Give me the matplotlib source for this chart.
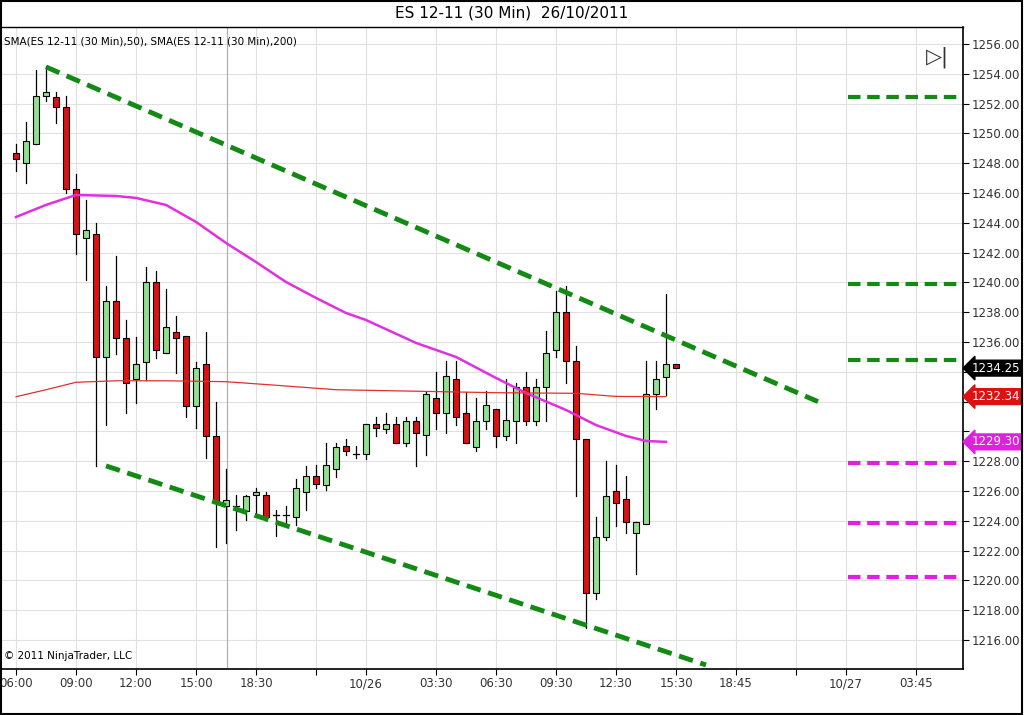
import matplotlib
matplotlib.use("Agg")
import matplotlib.pyplot as plt
from matplotlib.patches import Rectangle
import numpy as np

opens = [1248.71,1248.00,1249.27,1252.51,1252.46,1251.75,1246.25,1242.96,1243.23,1234.98,
         1238.76,1236.25,1233.50,1234.68,1240.01,1235.25,1236.70,1236.43,1231.71,1234.53,
         1229.72,1224.99,1225.00,1224.69,1225.74,1225.74,1224.40,1224.40,1224.24,1225.96,
         1227.01,1226.41,1227.48,1229.03,1228.49,1228.47,1230.49,1230.19,1230.49,1229.21,
         1230.73,1229.74,1232.23,1231.22,1233.50,1231.22,1228.98,1230.73,1231.49,1229.72,
         1230.73,1232.96,1230.73,1232.96,1235.47,1238.00,1234.73,1229.47,1219.18,1222.95,
         1226.00,1225.45,1223.16,1223.76,1232.49,1233.68,1234.51]
highs = [1249.29,1250.79,1254.26,1254.52,1252.80,1252.51,1247.28,1245.53,1243.99,1239.76,
         1241.78,1237.48,1236.34,1241.06,1240.79,1239.56,1237.75,1236.43,1234.68,1236.70,
         1232.00,1227.48,1225.74,1225.74,1226.20,1225.96,1224.73,1225.00,1226.80,1227.68,
         1227.75,1229.23,1229.23,1229.47,1229.03,1230.49,1231.00,1231.22,1231.00,1231.00,
         1231.00,1232.67,1234.01,1234.75,1234.75,1232.67,1232.27,1232.72,1231.49,1233.50,
         1233.23,1234.01,1233.50,1236.76,1239.45,1239.76,1235.74,1229.47,1224.28,1228.04,
         1227.75,1227.01,1223.95,1234.75,1234.75,1239.23,1234.51]
lows = [1247.48,1246.69,1249.27,1252.20,1250.72,1246.00,1241.91,1240.16,1227.69,1230.43,
        1235.20,1231.24,1231.93,1233.45,1234.90,1235.27,1233.95,1230.97,1230.21,1228.20,
        1222.23,1222.50,1223.39,1224.06,1224.40,1224.06,1222.99,1223.86,1223.73,1224.73,
        1226.20,1226.07,1226.96,1228.42,1228.20,1228.13,1229.70,1229.88,1229.21,1229.00,
        1227.68,1228.42,1230.19,1229.92,1230.43,1229.21,1228.71,1230.15,1228.98,1229.43,
        1229.21,1230.43,1230.43,1230.73,1234.98,1233.23,1225.67,1216.79,1218.73,1222.72,
        1223.66,1223.20,1220.44,1223.76,1231.49,1232.45,1234.25]
closes = [1248.27,1249.49,1252.51,1252.76,1251.75,1246.25,1243.23,1243.50,1234.98,1238.76,
          1236.25,1233.23,1234.53,1240.01,1235.47,1236.99,1236.25,1231.71,1234.24,1229.72,
          1225.22,1225.40,1225.00,1225.69,1225.96,1224.28,1224.40,1224.40,1226.19,1227.01,
          1226.48,1227.73,1228.98,1228.71,1228.49,1230.49,1230.21,1230.49,1229.21,1230.73,
          1229.92,1232.49,1231.22,1233.72,1230.95,1229.21,1230.73,1231.78,1229.72,1230.77,
          1233.00,1230.73,1232.96,1235.25,1238.00,1234.73,1229.47,1219.18,1222.95,1225.69,
          1225.22,1223.95,1223.95,1232.49,1233.50,1234.51,1234.25]

sma50_idx = [0,3,6,10,12,15,18,21,24,27,30,33,35,40,44,48,51,55,58,61,63,65]
sma50_val = [1244.39,1245.20,1245.87,1245.80,1245.67,1245.20,1244.06,1242.65,1241.37,1240.03,
             1238.96,1237.95,1237.48,1235.94,1235.00,1233.59,1232.58,1231.44,1230.43,1229.70,
             1229.36,1229.30]
sma200_idx = [0,3,6,10,15,21,26,32,48,56,60,65]
sma200_val = [1232.33,1232.80,1233.30,1233.40,1233.40,1233.34,1233.10,1232.80,1232.60,1232.56,
              1232.35,1232.34]

upper_line = ([3, 80.2], [1254.46, 1232.0])
lower_line = ([9, 69], [1227.69, 1214.33])
green_levels = [1252.44, 1239.90, 1234.80]
magenta_levels = [1227.90, 1223.85, 1220.25]

tick_pos = [0,6,12,18,24,30,35,42,48,54,60,66,72,78,83,90]
tick_lab = ["06:00","09:00","12:00","15:00","18:30","","10/26","03:30","06:30","09:30",
            "12:30","15:30","18:45","","10/27","03:45"]
y_ticks = list(range(1216, 1257, 2))
hidden_y = [1230, 1232, 1234]  # covered by the value boxes

fig = plt.figure(figsize=(10.24, 7.15), dpi=100)
ax = fig.add_axes([2/1024, 46/715, 961/1024, 642/715])
ax.set_xlim(-1.4, 94.7)
ax.set_ylim(1214.06, 1257.14)

for t in tick_pos:
    ax.axvline(t, color="#e0e0e0", lw=0.8, zorder=0)
for y in y_ticks:
    ax.axhline(y, color="#e0e0e0", lw=0.8, zorder=0)
ax.axvline(21.1, color="#b0b0b0", lw=0.9, zorder=0)

w = 0.6
for i,(o,h,l,c) in enumerate(zip(opens,highs,lows,closes)):
    ax.plot([i,i],[l,h], color="black", lw=0.9, zorder=2)
    col = "#90e090" if c > o else ("#dd1111" if c < o else "black")
    if abs(c-o) < 0.05:
        ax.plot([i-w/2,i+w/2],[o,o], color="black", lw=0.9, zorder=3)
    else:
        ax.add_patch(Rectangle((i-w/2, min(o,c)), w, abs(c-o), facecolor=col,
                               edgecolor="black", lw=0.8, zorder=3))

ax.plot(sma50_idx, sma50_val, color="#e030e0", lw=1.8, zorder=4)
ax.plot(sma200_idx, sma200_val, color="#e03030", lw=0.9, zorder=4)

ax.plot(*upper_line, color="#138a13", lw=3.5, ls=(0,(3,1.6)), zorder=5)
ax.plot(*lower_line, color="#138a13", lw=3.5, ls=(0,(3,1.6)), zorder=5)
for v in green_levels:
    ax.plot([83.2, 94.6], [v, v], color="#138a13", lw=3, ls=(0,(3,1.6)), zorder=5)
for v in magenta_levels:
    ax.plot([83.2, 94.6], [v, v], color="#e020e0", lw=3, ls=(0,(3,1.6)), zorder=5)

ax.set_xticks(tick_pos)
ax.set_xticklabels(tick_lab, fontsize=8.5, color="#333333")
ax.yaxis.tick_right()
ax.set_yticks(y_ticks)
ax.set_yticklabels(["" if v in hidden_y else f"{v:.2f}" for v in y_ticks],
                   fontsize=8.5, color="#333333")
ax.tick_params(length=4, width=0.8, pad=2)
for s in ["top","left"]:
    ax.spines[s].set_visible(False)
ax.spines["right"].set_linewidth(1.2)
ax.spines["bottom"].set_linewidth(1.2)
ax.plot([0,1],[1,1], transform=ax.transAxes, color="black", lw=1, clip_on=False)

for v, fc in [(closes[-1], "black"), (sma200_val[-1], "#dd1111"), (sma50_val[-1], "#e020e0")]:
    ax.annotate(f"{v:.2f}", xy=(1, v), xycoords=("axes fraction","data"),
                xytext=(6, 0), textcoords="offset points", va="center", ha="left",
                fontsize=8.5, color="white", zorder=20, annotation_clip=False,
                bbox=dict(boxstyle="larrow,pad=0.12", fc=fc, ec=fc))

fig.text(0.5, 0.982, "ES 12-11 (30 Min)  26/10/2011", ha="center", va="center", fontsize=11)
ax.text(0.002, 0.985, "SMA(ES 12-11 (30 Min),50), SMA(ES 12-11 (30 Min),200)",
        transform=ax.transAxes, fontsize=7.5, va="top", ha="left")
ax.text(0.002, 0.012, "© 2011 NinjaTrader, LLC", transform=ax.transAxes,
        fontsize=7.5, va="bottom", ha="left")
ax.text(0.985, 0.97, "▷|", transform=ax.transAxes, fontsize=15, ha="right", va="top",
        color="#333333")

fig.add_artist(Rectangle((0.001, 0.002), 0.997, 0.996, transform=fig.transFigure,
                         fill=False, ec="black", lw=1.5))
fig.savefig("out.png", dpi=100)
